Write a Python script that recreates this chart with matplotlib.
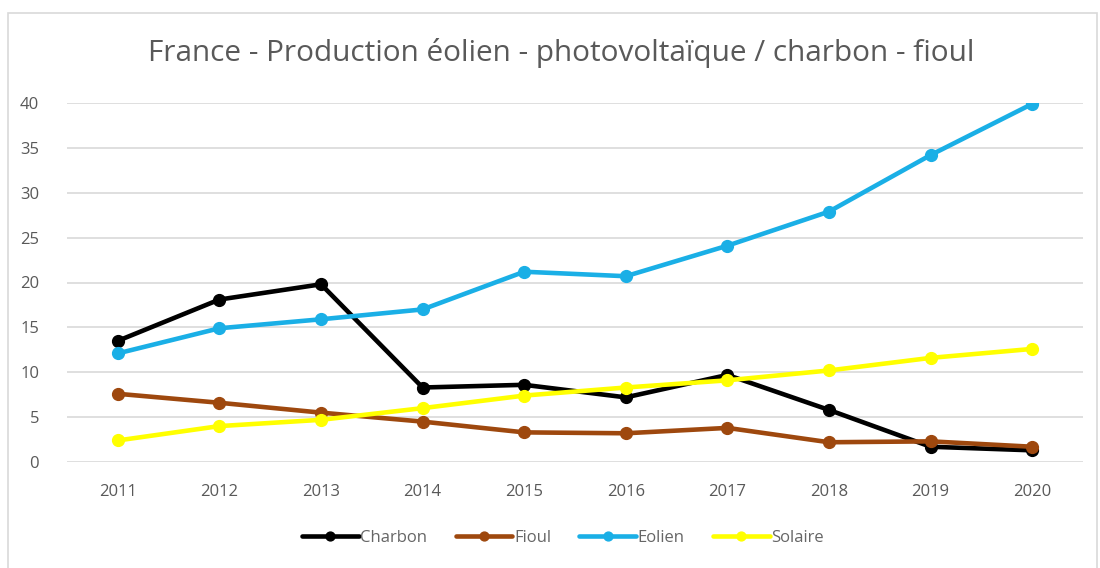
import matplotlib
matplotlib.use("Agg")
import matplotlib.pyplot as plt
from matplotlib.patches import Rectangle

years = ["2011", "2012", "2013", "2014", "2015", "2016", "2017", "2018", "2019", "2020"]
charbon = [13.5, 18.1, 19.8, 8.3, 8.6, 7.2, 9.7, 5.8, 1.7, 1.3]
fioul = [7.6, 6.6, 5.5, 4.5, 3.3, 3.2, 3.8, 2.2, 2.3, 1.7]
eolien = [12.1, 14.9, 15.9, 17.0, 21.2, 20.7, 24.1, 27.9, 34.2, 39.9]
solaire = [2.4, 4.0, 4.7, 6.0, 7.4, 8.3, 9.1, 10.2, 11.6, 12.6]
yticks = [0, 5, 10, 15, 20, 25, 30, 35, 40]

plt.rcParams['font.family'] = ['Open Sans', 'DejaVu Sans']
W, H = 1100, 568
fig = plt.figure(figsize=(W / 100, H / 100), dpi=100)
fig.patches.append(Rectangle((8 / W, -0.01), (1097 - 8) / W, 1 - 13 / H + 0.01,
                             transform=fig.transFigure, fill=False,
                             edgecolor='#D9D9D9', linewidth=1.2))

ax = fig.add_axes([67 / W, 1 - 462 / H, (1083 - 67) / W, (462 - 103) / H])
x = list(range(len(years)))
series = [("Charbon", charbon, "#000000"), ("Fioul", fioul, "#9E480E"),
          ("Eolien", eolien, "#1AAFE6"), ("Solaire", solaire, "#FFFF00")]
for name, vals, c in series:
    ax.plot(x, vals, color=c, linewidth=3.3, marker='o', markersize=8.5,
            label=name, solid_capstyle='round', solid_joinstyle='round')

ax.set_xlim(-0.5, len(years) - 0.5)
ax.set_ylim(0, 40)
ax.set_yticks(yticks)
ax.set_xticks(x)
ax.set_xticklabels(years)
ax.grid(axis='y', color='#D9D9D9', linewidth=1.2)
ax.set_axisbelow(True)
for s in ax.spines.values():
    s.set_visible(False)
ax.tick_params(axis='both', length=0, colors='#595959', labelsize=12)
ax.tick_params(axis='y', pad=20)
ax.tick_params(axis='x', pad=16)

fig.text(561 / W, 1 - 53 / H, "France - Production éolien - photovoltaïque / charbon - fioul",
         ha='center', va='center', fontsize=21.4, color='#595959')

leg = fig.legend(loc='center', bbox_to_anchor=(563 / W, 1 - 538 / H), ncol=4,
                 frameon=False, fontsize=12, handlelength=3.4, handletextpad=0.1,
                 columnspacing=1.7, markerscale=0.75)
for t in leg.get_texts():
    t.set_color('#666666')

fig.savefig("out.png", dpi=100)
